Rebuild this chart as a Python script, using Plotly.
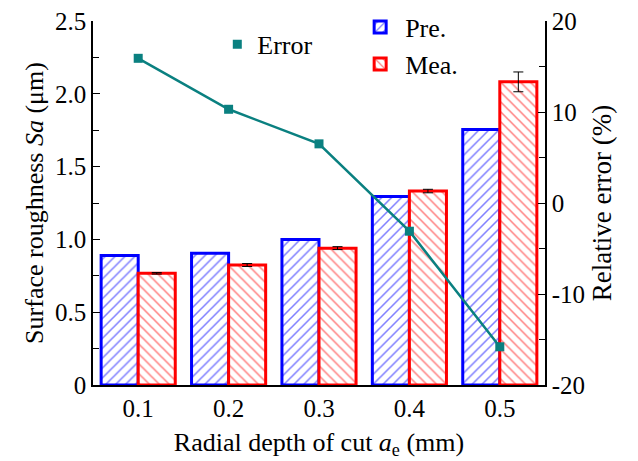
import plotly.graph_objects as go

categories = ["0.1", "0.2", "0.3", "0.4", "0.5"]
pre_values = [0.89, 0.905, 1.00, 1.295, 1.755]
mea_values = [0.767, 0.824, 0.940, 1.332, 2.082]
mea_err = [0.005, 0.01, 0.01, 0.012, 0.068]
rel_error = [15.9, 10.3, 6.5, -3.1, -15.8]

left_tickvals = [0, 0.5, 1.0, 1.5, 2.0, 2.5]
left_ticktext = ["0", "0.5", "1.0", "1.5", "2.0", "2.5"]
right_tickvals = [-20, -10, 0, 10, 20]
right_ticktext = ["-20", "-10", "0", "10", "20"]

FONT = "Liberation Serif"
TEAL = "#0a8080"

fig = go.Figure()
fig.add_trace(go.Bar(
    x=categories, y=pre_values, name="Pre.",
    marker=dict(color="white", line=dict(color="#0000ff", width=3),
                pattern=dict(shape="/", fgcolor="#0000ff", bgcolor="white", size=7, solidity=0.22)),
    legend="legend2",
))
fig.add_trace(go.Bar(
    x=categories, y=mea_values, name="Mea.",
    marker=dict(color="white", line=dict(color="#ff0000", width=3),
                pattern=dict(shape="\\", fgcolor="#ff0000", bgcolor="white", size=7, solidity=0.22)),
    error_y=dict(type="data", array=mea_err, color="black", thickness=1, width=5),
    legend="legend2",
))
fig.add_trace(go.Scatter(
    x=categories, y=rel_error, name="Error", yaxis="y2",
    mode="lines+markers",
    line=dict(color=TEAL, width=2.5),
    marker=dict(symbol="square", size=9, color=TEAL),
    showlegend=False,
))
fig.add_trace(go.Scatter(
    x=[None], y=[None], name="Error", yaxis="y2",
    mode="markers",
    marker=dict(symbol="square", size=9, color=TEAL),
    legend="legend",
))

fig.update_layout(
    width=638, height=461,
    margin=dict(l=93, r=93, t=21, b=76, autoexpand=False),
    paper_bgcolor="white", plot_bgcolor="white",
    font=dict(family=FONT, size=25, color="black"),
    barmode="group", bargap=0.18, bargroupgap=0,
    xaxis=dict(
        type="category", range=[-0.5, 4.5],
        showline=True, linecolor="black", linewidth=1.5,
        ticks="", showgrid=False, zeroline=False,
        tickfont=dict(family=FONT, size=25),
        title=dict(text="Radial depth of cut <i>a</i><sub>e</sub> (mm)", font=dict(family=FONT, size=26), standoff=12),
    ),
    yaxis=dict(
        range=[0, 2.5], tickvals=left_tickvals, ticktext=left_ticktext,
        showline=True, linecolor="black", linewidth=1.5,
        ticks="inside", ticklen=7, tickwidth=1.2, tickcolor="black",
        minor=dict(ticks="inside", ticklen=6, tickwidth=1.2, tickcolor="black", dtick=0.25, tick0=0),
        showgrid=False, zeroline=False,
        tickfont=dict(family=FONT, size=25),
        title=dict(text="Surface roughness <i>Sa</i> (μm)", font=dict(family=FONT, size=26), standoff=4),
    ),
    yaxis2=dict(
        overlaying="y", side="right",
        range=[-20, 20], tickvals=right_tickvals, ticktext=right_ticktext,
        showline=True, linecolor="black", linewidth=1.5,
        ticks="inside", ticklen=7, tickwidth=1.2, tickcolor="black",
        minor=dict(ticks="inside", ticklen=6, tickwidth=1.2, tickcolor="black", dtick=5, tick0=0),
        showgrid=False, zeroline=False,
        tickfont=dict(family=FONT, size=25),
        title=dict(text="Relative error (%)", font=dict(family=FONT, size=27), standoff=8),
    ),
    legend=dict(x=0.275, y=0.955, yref="container", xanchor="left", yanchor="top",
                bgcolor="rgba(0,0,0,0)", font=dict(family=FONT, size=26)),
    legend2=dict(x=0.58, y=0.992, yref="container", xanchor="left", yanchor="top", itemwidth=40,
                 bgcolor="rgba(0,0,0,0)", font=dict(family=FONT, size=26), tracegroupgap=0),
    showlegend=True,
)

fig.write_html("out.html")
